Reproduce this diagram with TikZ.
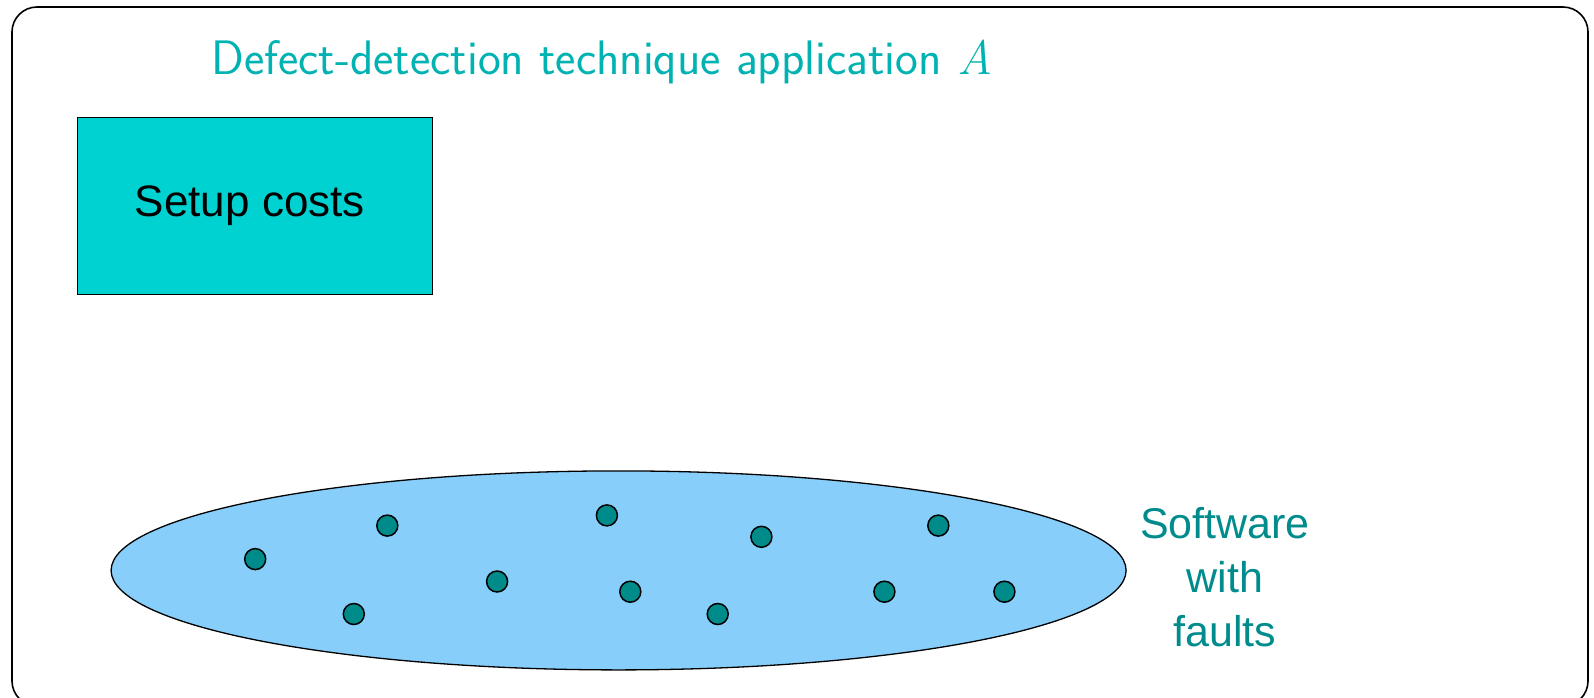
\documentclass[tikz,border=0pt]{standalone}
\usepackage{fontspec}
\newfontfamily\arialfont{Liberation Sans}
\usetikzlibrary{shapes.geometric}
\definecolor{titleteal}{RGB}{0,178,178}
\definecolor{setupcyan}{RGB}{0,210,210}
\definecolor{poolblue}{RGB}{135,206,250}
\definecolor{faultteal}{RGB}{0,139,139}
\definecolor{labelteal}{RGB}{0,140,140}
\tikzset{
  outerframe/.style={draw=black, line width=1.6pt, rounded corners=25pt},
  costbox/.style={draw=black, fill=setupcyan, line width=1.2pt,
    minimum width=355pt, minimum height=177pt, inner sep=0pt,
    font=\arialfont\fontsize{44}{52}\selectfont},
  pool/.style={ellipse, draw=black, fill=poolblue, line width=1.3pt,
    minimum width=1015pt, minimum height=199pt, inner sep=0pt},
  fault/.style={circle, draw=black, fill=faultteal, line width=1.5pt,
    minimum size=21pt, inner sep=0pt},
  caption/.style={text=titleteal, inner sep=0pt,
    font=\sffamily\fontsize{48.4}{58}\selectfont},
  poollabel/.style={text=labelteal, align=center, inner sep=0pt,
    font=\arialfont\fontsize{43}{54}\selectfont},
}
\begin{document}
\begin{tikzpicture}[x=1pt, y=-1pt]
  \useasboundingbox (0,0) rectangle (1594,698);
  % rounded outer frame, its bottom edge runs past the page
  \draw[outerframe] (12,7) rectangle (1588,706);
  % heading
  \node[caption, anchor=base west] (heading) at (211,75)
    {Defect-detection technique application {\rmfamily\itshape A}};
  % cost block (text sits slightly left of centre)
  \node[costbox] (setup) at (254.8,205.7) {\hspace*{-10pt}Setup costs};
  % software as a pool of faults
  \node[pool] (software) at (618.6,570.4) {};
  \foreach \n/\px/\py in {1/255.2/559.1, 2/387.3/525.6, 3/353.8/614.0,
      4/497.1/581.5, 5/606.9/515.4, 6/630.3/591.7, 7/717.7/614.0,
      8/761.4/536.8, 9/884.4/591.7, 10/938.3/525.6, 11/1004.4/591.7}
    \node[fault] (fault\n) at (\px,\py) {};
  % base anchor of a multi-line node is the last line's baseline
  \node[poollabel, anchor=base] (softlabel) at (1225,646)
    {Software\\with\\faults};
\end{tikzpicture}
\end{document}
